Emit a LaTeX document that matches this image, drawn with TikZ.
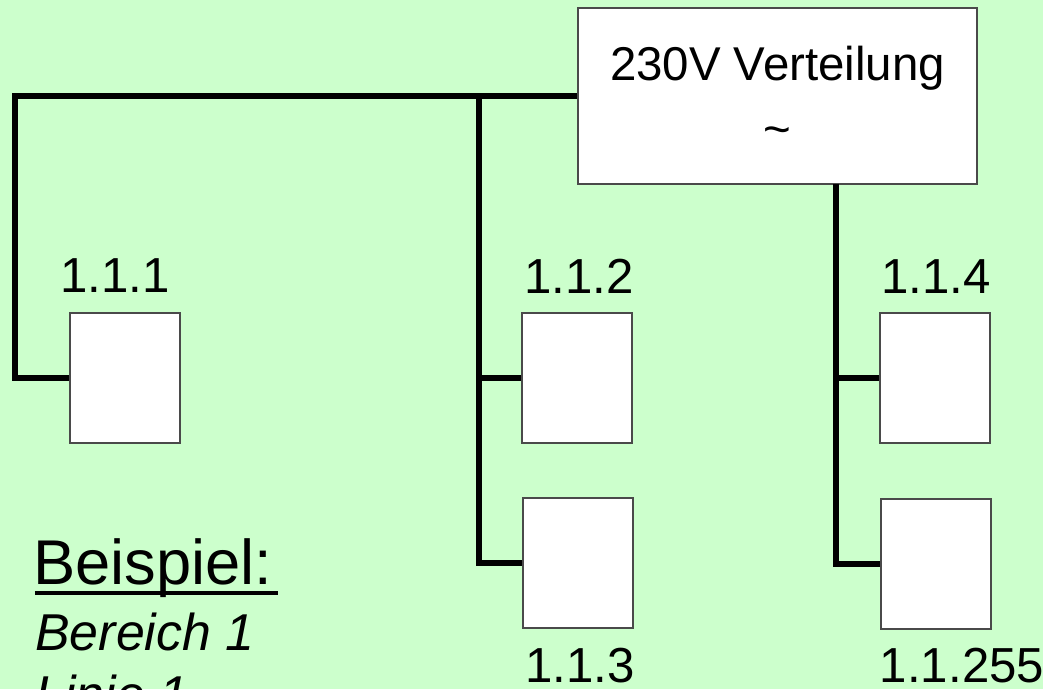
\documentclass[tikz,border=0pt]{standalone}
\usepackage{fontspec}
\setmainfont{Liberation Sans}
\usepackage{tikz}
\usetikzlibrary{positioning,shadows}
\definecolor{slide}{HTML}{CCFFCC}
\definecolor{boxedge}{HTML}{4A4A4A}
\tikzset{
  device/.style={draw=boxedge,fill=white,line width=0.8pt,
                 minimum width=2.2cm,minimum height=2.6cm,inner sep=0pt,
                 general shadow={fill=black,shadow xshift=0.7pt,shadow yshift=-0.7pt}},
  supply/.style={draw=boxedge,fill=white,line width=0.8pt,
                 minimum width=7.98cm,minimum height=3.52cm,inner sep=0pt,
                 align=center,font=\fontsize{27}{37}\selectfont,
                 general shadow={fill=black,shadow xshift=0.7pt,shadow yshift=-0.7pt}},
  addr/.style={font=\fontsize{28}{34}\selectfont,inner sep=0pt,anchor=base},
  note/.style={font=\fontsize{29.5}{35}\selectfont\itshape,inner sep=0pt,anchor=base west},
  wire/.style={line width=3.4pt}
}

\begin{document}
\begin{tikzpicture}[x=0.02cm,y=-0.02cm]
  \useasboundingbox (0,0) rectangle (1043,689);
  \clip (0,0) rectangle (1043,689);
  \fill[slide] (0,0) rectangle (1043,689);

  % supply and devices
  \node[supply] (v) at (777.5,96) {230V Verteilung\\\textasciitilde};
  \node[device] (d1) at (125,378) {};
  \node[device] (d2) at (577,378) {};
  \node[device] (d3) at (578,563) {};
  \node[device] (d4) at (935,378) {};
  \node[device] (d5) at (936,564) {};

  % addresses
  \node[addr] (a1) at (115,292) {1.1.1};
  \node[addr] (a2) at (579,293) {1.1.2};
  \node[addr] (a3) at (580,682) {1.1.3};
  \node[addr] (a4) at (936,293) {1.1.4};
  \node[addr] (a5) at (962,682) {1.1.255};

  % wiring
  \coordinate (k1) at (15,96);
  \coordinate (k2) at (479,96);
  \coordinate (k3) at (836,184);
  \draw[wire] (v.west) -- (k1) |- (d1.west);
  \draw[wire] (k2) |- (d3.west);
  \draw[wire] (k2 |- d2.west) -- (d2.west);
  \draw[wire] (k3) |- (d5.west);
  \draw[wire] (k3 |- d4.west) -- (d4.west);

  % example text
  \node[font=\fontsize{36}{43}\selectfont,inner sep=0pt,anchor=base west] (ex) at (33,584) {Beispiel:};
  \draw[line width=2.4pt] ([yshift=-0.18cm,xshift=0.04cm]ex.base west) -- ([yshift=-0.18cm,xshift=0.1cm]ex.base east);
  \node[note] (b1) at (35,650) {Bereich 1};
  \node[note] (l1) at (35,712) {Linie 1};
\end{tikzpicture}
\end{document}
